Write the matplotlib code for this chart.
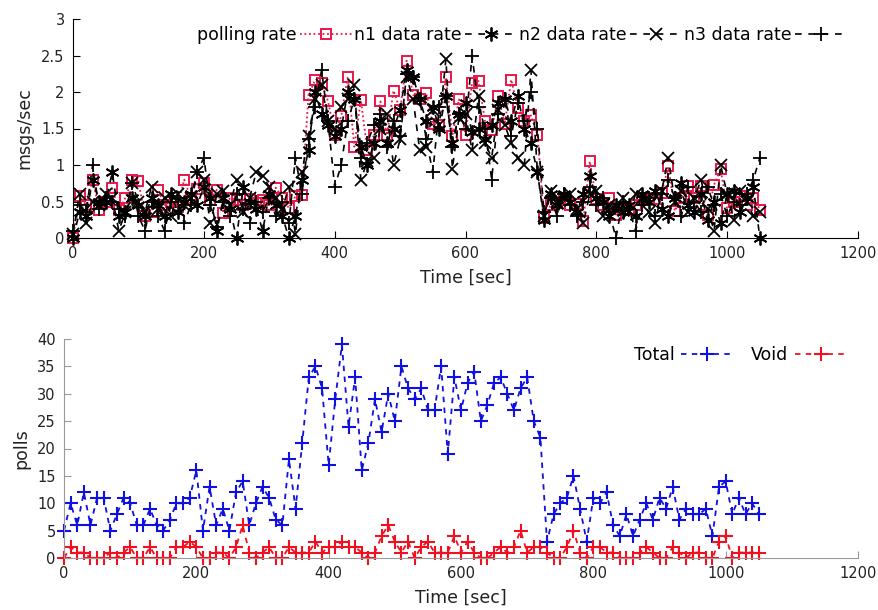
import matplotlib
matplotlib.use("Agg")
import matplotlib.pyplot as plt
import numpy as np

# ---------------- data ----------------
step_sec = 10

polling_rate = [0.0, 0.57, 0.45, 0.8, 0.38, 0.5, 0.68, 0.38, 0.55, 0.79,
                0.78, 0.3, 0.36, 0.66, 0.45, 0.5, 0.43, 0.8, 0.55, 0.67,
                0.75, 0.52, 0.66, 0.34, 0.55, 0.52, 0.45, 0.54, 0.48, 0.52,
                0.45, 0.69, 0.55, 0.41, 0.57, 0.59,
                1.96, 2.16, 2.12, 1.87, 1.41, 1.67, 2.21, 1.25, 1.89, 1.2,
                1.41, 1.87, 1.41, 2.02, 1.75, 2.43, 1.96, 1.9, 1.98, 1.56,
                1.55, 2.2, 1.4, 1.9, 1.41, 2.13, 2.15, 1.6, 1.48, 1.94,
                1.56, 2.17, 1.78, 1.6, 1.68, 1.41,
                0.27, 0.45, 0.48, 0.53, 0.45, 0.46, 0.23, 1.05, 0.53, 0.45,
                0.55, 0.32, 0.4, 0.38, 0.45, 0.55, 0.55, 0.53, 0.62, 0.98,
                0.37, 0.55, 0.71, 0.55, 0.71, 0.32, 0.73, 0.94, 0.41, 0.5,
                0.57, 0.45, 0.55, 0.39]

n1_rate = [0.0, 0.35, 0.3, 0.8, 0.5, 0.5, 0.9, 0.3, 0.35, 0.55,
           0.45, 0.3, 0.55, 0.45, 0.3, 0.6, 0.35, 0.5, 0.6, 0.45,
           0.7, 0.55, 0.1, 0.55, 0.4, 0.0, 0.7, 0.5, 0.4, 0.1,
           0.6, 0.45, 0.3, 0.0, 0.3, 0.8,
           1.2, 2.0, 1.7, 1.55, 1.4, 1.5, 2.0, 1.9, 1.25, 1.0,
           1.3, 1.6, 1.3, 1.5, 1.75, 2.3, 2.2, 1.9, 1.6, 1.8,
           1.5, 1.95, 1.3, 1.7, 1.85, 1.45, 1.5, 1.35, 1.55, 1.85,
           1.9, 1.6, 1.95, 1.5, 1.3, 0.9,
           0.25, 0.6, 0.45, 0.6, 0.5, 0.35, 0.6, 0.85, 0.55, 0.5,
           0.3, 0.45, 0.35, 0.45, 0.3, 0.6, 0.5, 0.65, 0.4, 0.3,
           0.55, 0.75, 0.45, 0.35, 0.6, 0.25, 0.5, 0.2, 0.6, 0.65,
           0.35, 0.55, 0.7, 0.0]

n2_rate = [0.05, 0.6, 0.2, 0.5, 0.45, 0.6, 0.55, 0.1, 0.35, 0.75,
           0.5, 0.35, 0.7, 0.4, 0.55, 0.3, 0.6, 0.45, 0.55, 0.9,
           0.8, 0.2, 0.6, 0.65, 0.45, 0.8, 0.35, 0.55, 0.9, 0.85,
           0.7, 0.55, 0.4, 0.7, 0.05, 0.9,
           1.4, 1.9, 2.1, 1.6, 1.5, 1.8, 1.9, 2.1, 0.8, 1.05,
           1.1, 1.5, 1.7, 1.0, 1.35, 2.2, 1.9, 1.2, 1.25, 1.75,
           1.55, 2.45, 0.95, 1.65, 1.7, 1.2, 1.95, 1.3, 1.1, 1.75,
           1.55, 1.3, 1.1, 1.0, 2.3, 0.9,
           0.3, 0.65, 0.5, 0.55, 0.6, 0.4, 0.2, 0.6, 0.65, 0.3,
           0.45, 0.4, 0.55, 0.35, 0.6, 0.55, 0.35, 0.2, 0.65, 1.1,
           0.5, 0.65, 0.35, 0.55, 0.8, 0.4, 0.1, 1.0, 0.6, 0.25,
           0.65, 0.5, 0.3, 0.35]

n3_rate = [0.1, 0.45, 0.35, 1.0, 0.4, 0.55, 0.5, 0.4, 0.3, 0.75,
           0.3, 0.1, 0.5, 0.3, 0.1, 0.5, 0.55, 0.2, 0.45, 0.9,
           1.1, 0.45, 0.15, 0.5, 0.3, 0.6, 0.4, 0.2, 0.5, 0.35,
           0.55, 0.3, 0.5, 0.2, 1.1, 0.6,
           1.35, 1.8, 2.3, 1.6, 0.7, 1.0, 1.6, 1.9, 1.1, 1.3,
           1.55, 1.7, 1.25, 1.6, 1.4, 2.25, 2.2, 1.9, 1.35, 0.9,
           1.8, 1.95, 1.25, 1.7, 1.5, 2.5, 1.8, 1.5, 0.8, 1.7,
           1.9, 1.4, 1.85, 1.6, 2.0, 1.5,
           0.35, 0.55, 0.3, 0.6, 0.45, 0.3, 0.5, 0.7, 0.45, 0.55,
           0.35, 0.0, 0.5, 0.4, 0.1, 0.45, 0.55, 0.3, 0.6, 0.8,
           0.55, 0.3, 0.7, 0.5, 0.35, 0.7, 0.45, 0.6, 0.3, 0.5,
           0.45, 0.6, 0.8, 1.1]

total_polls = [5, 10, 6, 12, 6, 11, 11, 5, 8, 11,
               10, 6, 6, 9, 6, 5, 7, 10, 10, 11,
               16, 5, 13, 6, 9, 5, 12, 14, 6, 10,
               13, 11, 7, 6, 18, 9, 21, 33, 35, 31,
               17, 29, 39, 24, 33, 16, 21, 29, 23, 30,
               25, 35, 31, 29, 31, 27, 27, 35, 19, 33,
               27, 32, 34, 25, 28, 32, 33, 30, 27, 31,
               33, 25, 22, 3, 8, 10, 11, 15, 9, 3,
               11, 10, 12, 6, 4, 8, 4, 7, 10, 7,
               11, 9, 13, 7, 9, 8, 8, 9, 4, 13,
               14, 8, 11, 8, 10, 8]

void_polls = [0, 2, 1, 1, 0, 0, 0, 1, 0, 1,
              2, 0, 0, 2, 0, 0, 0, 2, 2, 3,
              2, 0, 0, 1, 1, 0, 2, 6, 1, 0,
              1, 2, 0, 0, 2, 1, 1, 1, 3, 1,
              2, 2, 3, 2, 2, 1, 0, 1, 4, 6,
              3, 1, 3, 0, 2, 3, 1, 1, 1, 4,
              1, 3, 1, 0, 0, 1, 2, 1, 2, 5,
              1, 2, 2, 1, 0, 0, 2, 5, 1, 0,
              2, 2, 1, 1, 0, 0, 0, 1, 2, 1,
              0, 0, 2, 1, 0, 1, 1, 0, 0, 3,
              4, 0, 1, 1, 1, 1]

x_ticks = [0, 200, 400, 600, 800, 1000, 1200]
top_yticks = [0, 0.5, 1, 1.5, 2, 2.5, 3]
bottom_yticks = [0, 5, 10, 15, 20, 25, 30, 35, 40]

t_top = np.arange(len(polling_rate)) * step_sec
t_bot = np.arange(len(total_polls)) * step_sec

# ---------------- figure ----------------
fig = plt.figure(figsize=(8.79, 6.10), dpi=100)
ax1 = fig.add_axes([73/879, 1 - 238/610, (858 - 73)/879, (238 - 19)/610])
ax2 = fig.add_axes([64/879, 1 - 558/610, (858 - 64)/879, (558 - 339)/610])

red = "#e8174a"
ast = (6, 2, 0)

ax1.plot(t_top, polling_rate, color=red, ls=(0, (1, 1.5)), lw=1.3, marker="s",
         mfc="none", mec=red, ms=7, mew=1.4, label="polling rate", clip_on=False)
ax1.plot(t_top, n1_rate, color="black", ls=(0, (4, 4)), lw=1.2, marker=ast,
         ms=10, mew=1.3, label="n1 data rate", clip_on=False)
ax1.plot(t_top, n2_rate, color="black", ls=(0, (4, 4)), lw=1.2, marker="x",
         ms=8.5, mew=1.3, label="n2 data rate", clip_on=False)
ax1.plot(t_top, n3_rate, color="black", ls=(0, (4, 4)), lw=1.2, marker="+",
         ms=10.5, mew=1.3, label="n3 data rate", clip_on=False)

ax2.plot(t_bot, total_polls, color="#1010e0", ls=(0, (3, 3)), lw=1.3, marker="+",
         ms=10.5, mew=1.5, label="Total", clip_on=False)
ax2.plot(t_bot, void_polls, color="#f01020", ls=(0, (3, 3)), lw=1.3, marker="+",
         ms=10.5, mew=1.5, label="Void", clip_on=False)

for ax, yt, ylim, spc in ((ax1, top_yticks, 3, "black"), (ax2, bottom_yticks, 40, "#999999")):
    ax.set_xlim(0, 1200)
    ax.set_ylim(0, ylim)
    ax.set_xticks(x_ticks)
    ax.set_yticks(yt)
    ax.set_yticklabels([("%g" % v) for v in yt])
    ax.spines["top"].set_visible(False)
    ax.spines["right"].set_visible(False)
    ax.spines["left"].set_color(spc)
    ax.spines["bottom"].set_color(spc)
    ax.tick_params(direction="in", length=5, color=spc, labelsize=10.5,
                   labelcolor="#222222", pad=6)
    ax.set_xlabel("Time [sec]", fontsize=12.5, color="#222222", labelpad=5)
    ax.patch.set_alpha(0)

ax1.set_ylabel("msgs/sec", fontsize=12.5, color="#222222", labelpad=6)
ax2.set_ylabel("polls", fontsize=12.5, color="#222222", labelpad=5)

leg1 = ax1.legend(loc="upper right", bbox_to_anchor=(0.995, 1.0), ncol=4,
                  markerfirst=False, frameon=False, fontsize=12.5,
                  handlelength=3.0, handletextpad=0.2, columnspacing=0.1,
                  borderaxespad=0)
leg2 = ax2.legend(loc="upper right", bbox_to_anchor=(0.995, 1.0), ncol=2,
                  markerfirst=False, frameon=False, fontsize=12.5,
                  handlelength=3.0, handletextpad=0.4, columnspacing=1.0,
                  borderaxespad=0)

fig.savefig("out.png", dpi=100)
